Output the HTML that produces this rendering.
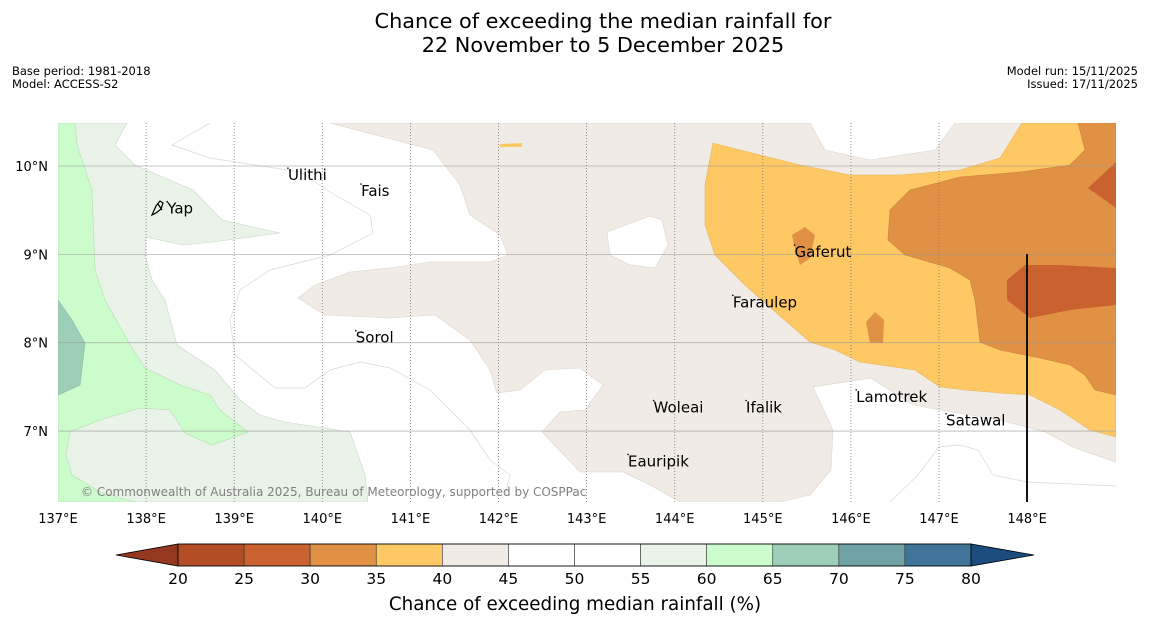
<!DOCTYPE html>
<html><head><meta charset="utf-8">
<style>
body{margin:0;background:#ffffff;}
svg{display:block;font-family:"DejaVu Sans","Liberation Sans",sans-serif;}
</style></head>
<body>
<svg id="chart" width="1150" height="644" viewBox="0 0 1150 644">
<rect x="0" y="0" width="1150" height="644" fill="#ffffff"/>
<text x="603" y="28" font-size="20.8" text-anchor="middle" fill="#000">Chance of exceeding the median rainfall for</text>
<text x="603" y="52" font-size="20.8" text-anchor="middle" fill="#000">22 November to 5 December 2025</text>
<text x="12" y="75" font-size="11.5">Base period: 1981-2018</text>
<text x="12" y="88" font-size="11.5">Model: ACCESS-S2</text>
<text x="1138" y="75" font-size="11.5" text-anchor="end">Model run: 15/11/2025</text>
<text x="1138" y="88" font-size="11.5" text-anchor="end">Issued: 17/11/2025</text>

<defs><clipPath id="mapclip"><rect x="58" y="123" width="1058" height="379"/></clipPath></defs>
<g clip-path="url(#mapclip)">
<rect x="58" y="123" width="1058" height="379" fill="#ffffff"/>
<path fill="#e9f3e7" stroke="#ccd6cc" stroke-width="0.6" d="M58,123 L127,123 L115,145 L135,165 L193,190 L222,220 L280,233 L213,242 L182,245 L146,237 L145,255 L152,280 L165,300 L177,345 L215,370 L240,400 L260,415 L285,422 L350,432 L365,475 L368,502 L58,502 Z"/>
<path fill="#ccfccc" stroke="#b5ddb5" stroke-width="0.6" d="M58,123 L75,123 L77,145 L92,190 L95,270 L105,300 L130,345 L145,368 L180,385 L210,395 L220,410 L248,432 L212,445 L185,433 L170,410 L140,408 L100,420 L70,432 L66,455 L72,475 L100,492 L135,502 L58,502 Z"/>
<path fill="#9dcfb8" stroke="#88b8a2" stroke-width="0.6" d="M58,300 L72,320 L85,343 L80,385 L58,395 Z"/>
<path fill="#f0ebe5" stroke="#dcd5cd" stroke-width="0.6" d="M330,123 L810,123 L825,150 L870,160 L935,150 L955,123 L1116,123 L1116,462 L1075,448 L1045,432 L1000,420 L940,410 L913,405 L871,378 L813,387 L833,430 L831,470 L810,495 L780,502 L680,502 L650,485 L623,472 L580,472 L542,432 L560,412 L585,410 L603,385 L580,368 L545,370 L520,390 L497,393 L490,370 L470,340 L435,315 L390,318 L325,315 L298,298 L315,285 L350,272 L390,268 L430,262 L490,262 L508,255 L500,235 L470,215 L460,185 L433,150 Z"/>
<path fill="#ffffff" stroke="#dcd5cd" stroke-width="0.6" d="M607,232 L650,216 L662,220 L668,245 L655,268 L630,265 L610,255 Z"/>
<path fill="#fec965" stroke="#e8b25a" stroke-width="0.6" d="M713,143 L740,150 L800,165 L850,175 L900,175 L960,170 L1000,158 L1022,123 L1116,123 L1116,437 L1090,430 L1060,410 L1030,395 L1000,393 L965,390 L940,387 L915,370 L860,362 L835,350 L810,342 L780,316 L745,285 L715,255 L705,225 L705,185 Z"/>
<path fill="#fec965" d="M500,144 L522,143 L522,147 L500,147 Z"/>
<path fill="#e09144" stroke="#cc8040" stroke-width="0.6" d="M1078,123 L1116,123 L1116,395 L1095,390 L1085,375 L1070,365 L1040,358 L1000,350 L980,342 L975,300 L970,280 L950,268 L905,255 L888,240 L890,210 L910,190 L960,177 L1020,172 L1070,165 L1085,150 Z"/>
<path fill="#e09144" d="M792,235 L805,227 L815,235 L810,258 L800,265 L794,245 Z"/>
<path fill="#e09144" d="M866,322 L875,312 L884,320 L883,343 L870,343 Z"/>
<path fill="#c9622f" d="M1088,188 L1116,162 L1116,208 Z"/>
<path fill="#c9622f" d="M1007,280 L1025,265 L1060,265 L1116,268 L1116,305 L1070,310 L1030,318 L1007,300 Z"/>
<path fill="none" stroke="#d8d8d8" stroke-width="0.7" d="M210,123 L172,145 L210,158 L300,172 L330,192 L370,215 L373,233 L330,255 L270,270 L240,290 L230,320 L235,355 L275,388 L305,388 L330,370 L360,362 L390,368 L430,390 L470,430 L490,460 L510,475 L505,495"/>
<path fill="none" stroke="#d8d8d8" stroke-width="0.7" d="M890,502 L918,475 L939,447 L960,445 L978,450 L993,475 L1027,482 L1116,486"/>
</g>
<g id="grid"></g>
<line x1="1027" y1="254" x2="1027" y2="502" stroke="#111" stroke-width="2"/>
<path d="M152,215 L156,206 L160,201 L163,203 L161,209 L156,213 Z M158,204 L162,210" fill="none" stroke="#000" stroke-width="1.2"/>
<g id="places"></g>
<text x="81" y="496" font-size="12" fill="#808080">© Commonwealth of Australia 2025, Bureau of Meteorology, supported by COSPPac</text>
<g id="axes"></g>
<g id="cbar"></g>
<text x="575" y="610" font-size="18.3" text-anchor="middle">Chance of exceeding median rainfall (%)</text>
</svg>
<script>
const lonTicks=[137,138,139,140,141,142,143,144,145,146,147,148];
const latTicks=[10,9,8,7];
const cbLevels=[20,25,30,35,40,45,50,55,60,65,70,75,80];
const cbColors=["#b24d25","#c9622f","#e09144","#fec965","#f0ebe5","#ffffff","#ffffff","#e9f3e7","#ccfccc","#9dcfb8","#6ea2a4","#3e7598"];
const placeNames=["Ulithi","Fais","Yap","Gaferut","Faraulep","Sorol","Woleai","Ifalik","Lamotrek","Satawal","Eauripik"];
const placeLon=[139.61,140.44,138.24,145.36,144.66,140.38,143.76,144.81,146.06,147.08,143.47];
const placeLat=[9.84,9.66,9.46,8.97,8.40,8.00,7.21,7.21,7.33,7.06,6.60];
const NS="http://www.w3.org/2000/svg";
const xL=lon=>58+(lon-137)*88.1;
const yL=lat=>166+(10-lat)*88.35;
function mk(tag,attrs,parent){const e=document.createElementNS(NS,tag);for(const k in attrs)e.setAttribute(k,attrs[k]);parent.appendChild(e);return e;}
const grid=document.getElementById('grid'),axes=document.getElementById('axes');
lonTicks.forEach(l=>{
 const x=xL(l);
 if(l>137&&l<148){const ln=mk('line',{x1:x,y1:123,x2:x,y2:502,stroke:'#777','stroke-width':0.8,'stroke-dasharray':'1,2'},grid);
 
 }
 const t=mk('text',{x:x,y:523,'font-size':13,'text-anchor':'middle'},axes);t.textContent=l+'°E';
 
 
});
latTicks.forEach(l=>{
 const y=yL(l);
 const ln=mk('line',{x1:58,y1:y,x2:1116,y2:y,stroke:'#999','stroke-width':0.8,opacity:0.7},grid);
 
 
 const t=mk('text',{x:48,y:y+5,'font-size':13,'text-anchor':'end'},axes);t.textContent=l+'°N';
 
 
});
const places=document.getElementById('places');
placeNames.forEach((n,i)=>{
 const x=xL(placeLon[i]),y=yL(placeLat[i]);
 const d=mk('circle',{cx:x,cy:y-12,r:0.8,fill:'#000'},places);
 
 
 const t=mk('text',{x:x,y:y,'font-size':15,fill:'#000'},places);t.textContent=n;
 
 
});
const cb=document.getElementById('cbar');
const cx=v=>178+(v-20)*(793/60);
const y0=544,y1=566;
const lt=mk('polygon',{points:`116,555 ${cx(20)},${y0} ${cx(20)},${y1}`,fill:'#943920',stroke:'#000','stroke-width':0.8},cb);


const rt=mk('polygon',{points:`1034,555 ${cx(80)},${y0} ${cx(80)},${y1}`,fill:'#1b4c7d',stroke:'#000','stroke-width':0.8},cb);


cbColors.forEach((c,i)=>{
 const r=mk('rect',{x:cx(cbLevels[i]),y:y0,width:cx(cbLevels[i+1])-cx(cbLevels[i]),height:y1-y0,fill:c,stroke:'#333','stroke-width':0.6},cb);
 
 
});
const fr=mk('rect',{x:cx(20),y:y0,width:cx(80)-cx(20),height:y1-y0,fill:'none',stroke:'#000','stroke-width':0.8},cb);


cbLevels.forEach(v=>{
 const t=mk('text',{x:cx(v),y:584,'font-size':15.5,'text-anchor':'middle'},cb);t.textContent=v;
 
 
});
</script>
</body></html>
